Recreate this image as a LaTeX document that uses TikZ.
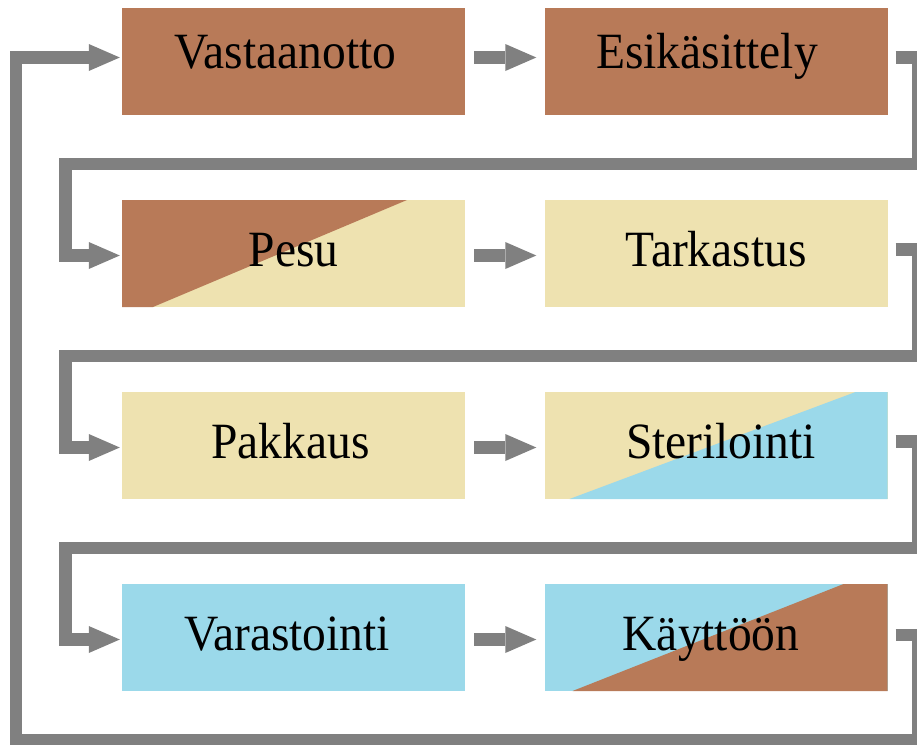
\documentclass[tikz,border=0pt]{standalone}
\usepackage{graphicx}
\usepackage{fontspec}
\setmainfont{Liberation Serif}
\usetikzlibrary{arrows.meta}
\definecolor{brn}{RGB}{184,122,88}
\definecolor{bge}{RGB}{238,226,176}
\definecolor{blu}{RGB}{155,217,234}
\definecolor{conn}{RGB}{128,128,128}
\newcommand{\tallt}[1]{\scalebox{1}[1.07]{#1}}
\begin{document}
\begin{tikzpicture}[x=1pt,y=-1pt,
  box/.style={minimum width=343pt,minimum height=107pt,inner sep=0pt,
    font=\fontsize{47.5}{54}\selectfont,text=black,text height=25pt,text depth=0pt},
  toprow/.style={text height=13pt},
  arr/.style={draw=conn,line width=12.5pt,line join=miter,
    -{Triangle[length=31pt,width=27pt,line width=0pt]}}]
\useasboundingbox (0,0) rectangle (917,744);
\clip (0,0) rectangle (917,744);
% boxes
\node[box,toprow,fill=brn] (va) at (293.5,61.5) {\hspace*{-16pt}\tallt{Vastaanotto}};
\node[box,toprow,fill=brn] (es) at (716,61.5) {\hspace*{-18pt}\tallt{Esikäsittely}};
\node[box,fill=bge,path picture={
  \fill[brn] (path picture bounding box.north west) -- ([xshift=285pt]path picture bounding box.north west)
   -- ([xshift=31pt]path picture bounding box.south west) -- (path picture bounding box.south west) -- cycle;}]
  (pe) at (293.5,253.5) {\tallt{Pesu}};
\node[box,fill=bge] (ta) at (716,253.5) {\tallt{Tarkastus}};
\node[box,fill=bge] (pk) at (293.5,445.5) {\hspace*{-6pt}\tallt{Pakkaus}};
\node[box,fill=bge,path picture={
  \fill[blu] ([xshift=311pt]path picture bounding box.north west) -- (path picture bounding box.north east)
   -- (path picture bounding box.south east) -- ([xshift=25pt]path picture bounding box.south west) -- cycle;}]
  (st) at (716,445.5) {\hspace*{10pt}\tallt{Sterilointi}};
\node[box,fill=blu] (vr) at (293.5,637.5) {\hspace*{-13pt}\tallt{Varastointi}};
\node[box,fill=blu,path picture={
  \fill[brn] ([xshift=299pt]path picture bounding box.north west) -- (path picture bounding box.north east)
   -- (path picture bounding box.south east) -- ([xshift=28pt]path picture bounding box.south west) -- cycle;}]
  (ky) at (716,637.5) {\hspace*{-10pt}\tallt{Käyttöön}};
% routing points
\coordinate (c1a) at (918,164);  \coordinate (c1b) at (65.5,164);
\coordinate (c2a) at (918,356);  \coordinate (c2b) at (65.5,356);
\coordinate (c3a) at (918,548);  \coordinate (c3b) at (65.5,548);
\coordinate (c4a) at (918,740);  \coordinate (c4b) at (16,740);
% straight arrows
\draw[arr] ([xshift=9pt,yshift=4pt]va.east) -- ([xshift=-8pt,yshift=4pt]es.west);
\draw[arr] ([xshift=9pt,yshift=-2pt]pe.east) -- ([xshift=-8pt,yshift=-2pt]ta.west);
\draw[arr] ([xshift=9pt,yshift=-2pt]pk.east) -- ([xshift=-8pt,yshift=-2pt]st.west);
\draw[arr] ([xshift=9pt,yshift=-2pt]vr.east) -- ([xshift=-8pt,yshift=-2pt]ky.west);
% loops
\draw[arr] ([xshift=8pt,yshift=4pt]es.east) -| (c1a) -- (c1b) |- ([xshift=-2pt,yshift=-2pt]pe.west);
\draw[arr] ([xshift=8pt,yshift=4pt]ta.east) -| (c2a) -- (c2b) |- ([xshift=-2pt,yshift=-2pt]pk.west);
\draw[arr] ([xshift=8pt,yshift=4pt]st.east) -| (c3a) -- (c3b) |- ([xshift=-2pt,yshift=-2pt]vr.west);
\draw[arr] ([xshift=8pt,yshift=2.5pt]ky.east) -| (c4a) -- (c4b) |- ([xshift=-2pt,yshift=4pt]va.west);
\end{tikzpicture}
\end{document}
